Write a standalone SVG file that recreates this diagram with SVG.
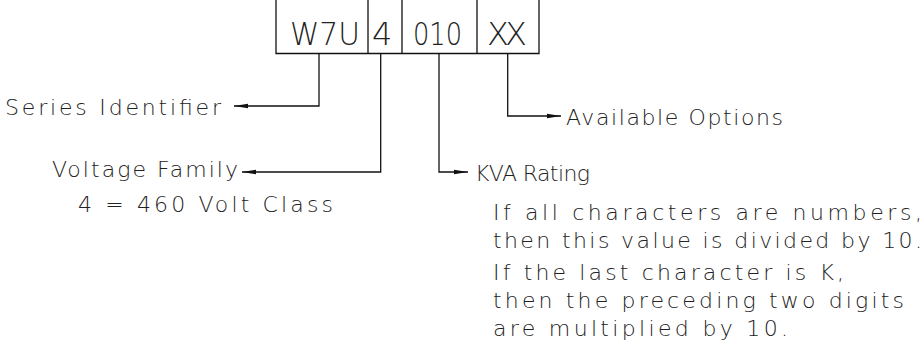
<svg xmlns="http://www.w3.org/2000/svg" width="924" height="347" viewBox="0 0 924 347">
<defs>
<style>
.t{font-family:"DejaVu Sans","Liberation Sans",sans-serif;font-weight:200;fill:#222;font-size:22px}
.b{font-size:32px}
.l{stroke:#111;stroke-width:1.3;fill:none}
</style>
<marker id="ah" viewBox="0 0 14 6" refX="14" refY="3" markerWidth="14" markerHeight="6" markerUnits="userSpaceOnUse" orient="auto">
<path d="M0,0.8 L14,3 L0,5.2 Z" fill="#111"/>
</marker>
</defs>
<rect width="924" height="347" fill="#fff"/>
<g id="code-box">
<path class="l" d="M276,0 V53.5 H539 V0 M368,0 V53.5 M402,0 V53.5 M477,0 V53.5"/>
<text class="t b" x="290" y="45" textLength="70" lengthAdjust="spacingAndGlyphs">W7U</text>
<text class="t b" x="372" y="45">4</text>
<text class="t b" x="413" y="45" textLength="49" lengthAdjust="spacingAndGlyphs">010</text>
<text class="t b" x="487" y="45" textLength="40" lengthAdjust="spacing">XX</text>
</g>
<g id="connectors">
<path class="l" d="M319,53.5 V106 H234" marker-end="url(#ah)"/>
<path class="l" d="M380.7,53.5 V172 H242" marker-end="url(#ah)"/>
<path class="l" d="M439,53.5 V172 H468" marker-end="url(#ah)"/>
<path class="l" d="M507.7,53.5 V116 H561" marker-end="url(#ah)"/>
</g>
<g id="series">
<text class="t" x="5" y="115" textLength="216" lengthAdjust="spacing">Series Identifier</text>
</g>
<g id="voltage">
<text class="t" x="52" y="177" textLength="186" lengthAdjust="spacing">Voltage Family</text>
<text class="t" x="78" y="212" textLength="255" lengthAdjust="spacing">4 = 460 Volt Class</text>
</g>
<g id="kva">
<text class="t" x="475" y="181" textLength="115" lengthAdjust="spacing">KVA Rating</text>
<text class="t" x="493" y="220" textLength="429" lengthAdjust="spacing">If all characters are numbers,</text>
<text class="t" x="493" y="248" textLength="429" lengthAdjust="spacing">then this value is divided by 10.</text>
<text class="t" x="493" y="280" textLength="351" lengthAdjust="spacing">If the last character is K,</text>
<text class="t" x="493" y="308" textLength="411" lengthAdjust="spacing">then the preceding two digits</text>
<text class="t" x="493" y="336" textLength="295" lengthAdjust="spacing">are multiplied by 10.</text>
</g>
<g id="options">
<text class="t" x="566" y="125" textLength="217" lengthAdjust="spacing">Available Options</text>
</g>
</svg>
